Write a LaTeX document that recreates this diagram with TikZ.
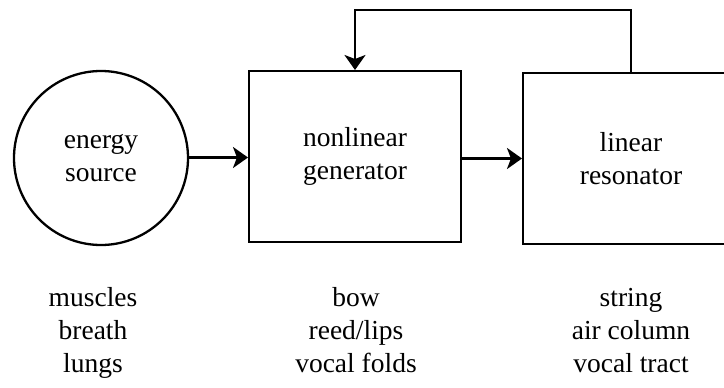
\documentclass[tikz,border=0pt]{standalone}
\usepackage{fontspec}
\setmainfont{Liberation Serif}
\usetikzlibrary{arrows.meta}
\begin{document}
\begin{tikzpicture}[x=1pt,y=-1pt,
  every node/.style={font=\fontsize{27.5}{33}\selectfont, align=center, inner sep=0pt},
  blk/.style={draw, line width=2pt, rectangle},
  src/.style={draw, line width=2.3pt, circle, minimum size=174pt},
  conn/.style={line width=2.6pt, line join=miter, -{Stealth[length=15pt,width=21pt,inset=4pt]}},
  lbl/.style={anchor=base}]
\useasboundingbox (0,0) rectangle (724,388);
\clip (0,0) rectangle (724,388);
\node[src] (es) at (101,158) {energy\\source};
\node[blk, minimum width=212pt, minimum height=171pt] (gen) at (355,156.5) {nonlinear\\generator};
\node[blk, minimum width=216pt, minimum height=171pt] (res) at (631,158.5) {linear\\resonator};
\coordinate (fbtop) at (631,10);
\draw[conn] (es.east |- 0,157.5) -- (gen.west |- 0,157.5);
\draw[conn] (gen.east |- 0,158.5) -- (res.west |- 0,158.5);
\draw[conn] (res.north) -- (fbtop) -| (gen.north);
\node[lbl] (c1) at (93,372) {muscles\\breath\\lungs};
\node[lbl] (c2) at (356,372) {bow\\reed/lips\\vocal folds};
\node[lbl] (c3) at (631,372) {string\\air column\\vocal tract};
\end{tikzpicture}
\end{document}
